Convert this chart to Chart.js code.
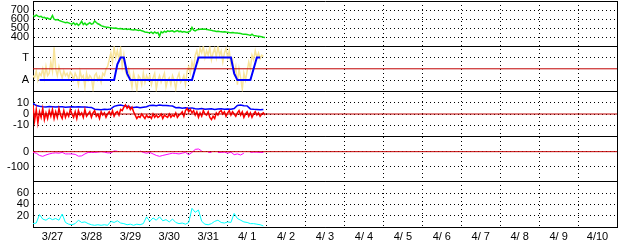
<!DOCTYPE html>
<html>
<head>
<meta charset="utf-8">
<script src="https://cdn.jsdelivr.net/npm/chart.js@4/dist/chart.umd.min.js"></script>
<style>
  html, body { margin: 0; padding: 0; background: #fff; }
  canvas { display: block; }
</style>
</head>
<body>
<canvas id="chart" width="628" height="244"></canvas>
<script>
/* ── Datos ───────────────────────────────────────────── */
// eje x en horas desde 3/27 00:00, 15 días
const dayLabels = ['3/27','3/28','3/29','3/30','3/31','4/ 1','4/ 2','4/ 3','4/ 4','4/ 5','4/ 6','4/ 7','4/ 8','4/ 9','4/10'];

// panel 1 (cada hora)
const greenVals = [
  640,628,645,632,625,630,615,620,608,612,600,605,
  640,598,590,594,585,578,572,566,560,565,558,550,
  545,560,538,552,530,548,575,540,555,535,548,560,
  545,550,580,562,548,540,528,520,515,512,510,506,
  505,500,498,502,495,492,496,490,488,492,486,489,
  485,482,480,484,478,475,478,470,465,458,455,452,
  450,456,440,458,445,452,411,460,448,465,455,470,
  462,468,470,458,465,472,460,466,455,462,458,452,
  460,468,508,478,470,481,485,488,490,487,489,486,
  482,478,475,470,468,463,465,462,460,458,460,456,
  455,452,450,452,448,445,446,442,440,436,433,432,
  430,425,420,432,418,415,412,410,408,405,400,397
];

// panel 2: A = 0, T = 1 (amarillo cada hora, azul cada 2 h)
const yellowVals = [
  0.2,0.1,0.4,0.0,0.3,0.2,0.5,0.1,0.6,0.2,0.3,0.8,
  0.4,1.45,0.5,0.2,0.6,0.3,0.1,0.4,0.2,0.3,0.1,0.35,
  0.25,0.0,0.3,0.15,-0.2,0.4,0.1,0.2,-0.3,0.3,0.0,0.2,
  0.1,-0.4,0.2,0.3,0.0,0.15,-0.1,0.3,0.2,0.5,0.6,0.9,
  1.2,0.8,1.45,1.0,1.3,0.9,1.4,0.6,1.1,0.4,0.2,0.5,
  0.1,-0.3,0.3,0.0,-0.45,0.2,0.1,-0.2,0.3,-0.1,0.2,0.0,
  0.2,-0.2,0.1,0.3,-0.4,0.0,0.2,-0.1,0.1,0.3,-0.3,0.0,
  0.1,-0.2,0.2,0.0,-0.4,0.1,0.3,-0.1,0.0,0.2,-0.2,0.4,
  0.6,0.3,0.8,0.5,1.1,1.3,0.9,1.4,1.2,1.5,1.0,1.3,
  1.1,1.45,0.9,1.2,1.4,1.0,1.5,1.1,1.3,0.8,1.2,1.4,
  1.0,1.3,0.7,0.9,0.3,0.6,-0.2,0.5,0.1,-0.4,0.3,0.0,
  0.4,0.8,0.5,1.1,0.9,1.3,1.0,1.2,0.95,1.1,1.05,null
];
const modeVals = [
  null,null,0,0,0,0,0,0,0,0,0,0,
  0,0,0,0,0,0,0,0,0,0,0,0,
  0,0,0.7,1,1,0.3,0,0,0,0,0,0,
  0,0,0,0,0,0,0,0,0,0,0,0,
  0,0,0.5,1,1,1,1,1,1,1,1,1,
  1,1,0.3,0,0,0,0,0,0.5,1,1,null
];
const modeMid = 0.5;

// panel 3 (rojo cada hora, azul cada 2 h)
const blue3Vals = [
  9.5,7.5,6.8,6.5,6.3,6.6,6.4,6.2,6.5,6.4,6.0,6.3,
  6.5,6.2,6.4,6.1,6.3,6.0,5.8,4.2,4.0,3.8,4.1,4.0,
  4.5,6.8,7.5,8.0,7.2,6.9,6.0,5.8,6.2,5.5,6.0,6.4,
  7.6,7.8,7.4,8.0,7.5,7.6,7.2,7.0,5.5,5.8,5.2,5.5,
  5.0,5.4,4.6,4.4,4.8,4.2,4.5,4.6,4.0,4.4,4.7,4.2,
  4.5,4.3,4.8,7.6,8.0,7.4,7.2,4.5,4.2,4.0,3.8,4.0
];
const red3Vals = [
  8,-6,4,-8,2,-3,5,-5,1,-4,3,-2,
  4,-4,2,-3,5,-1,-4,3,-3,1,-2,4,
  0,-3,2,-4,3,-1,1,-3,4,-2,0,2,
  -3,1,3,-2,0,-4,2,-1,1,-3,0,2,
  -1,3,-2,1,2,-1,4,3,6,8,5,7,
  4,6,2,-1,-4,-2,-3,0,-2,-4,-1,-3,
  -2,-4,0,-3,-1,-3,-2,0,-4,-1,-2,-3,
  0,-3,-1,-2,1,-3,-1,0,2,-2,3,5,
  2,4,1,3,-1,2,-3,1,-2,3,0,-1,
  2,-3,-5,-2,-4,1,-1,2,3,0,2,-2,
  1,3,-1,2,0,-2,1,3,-1,2,-3,0,
  2,-2,1,-3,0,2,-1,1,-2,0,1,-1
];

// panel 4 (cada 2 h)
const magentaVals = [
  -5,-10,-25,-31,-22,-15,-10,-8,-10,-5,-15,-15,
  -15,-18,-30,-28,-15,-5,-5,-5,-3,0,-3,-8,
  -8,5,3,null,-2,null,null,0,null,5,-5,-10,
  -5,-15,-25,-31,-25,-20,-15,-10,-12,-15,-10,-5,
  -20,-5,15,18,5,null,-5,-5,null,-5,-5,-3,
  -10,-3,-20,-15,-22,-10,null,-5,-3,-3,-5,-5
];

// panel 5 (cada 2 h)
const cyanVals = [
  6,7,22,14,12,16,13,15,12,23,8,5,
  4,6,12,8,9,6,4,3,4,3,4,3,
  10,8,11,7,6,4,5,3,5,4,6,18,
  10,16,12,18,11,13,9,14,8,6,7,5,
  8,33,26,30,10,5,4,6,10,12,8,7,
  9,8,24,15,12,9,8,6,6,5,4,2
];

// escalas
const y1Ticks = [300,400,500,600,700,800];
const y2Ticks = [-0.5,0,1,1.5];
const y2Names = { 0: 'A', 1: 'T' };
const y3Ticks = [-20,-10,0,10,20];
const y4Ticks = [-200,-100,0,100];
const y5Ticks = [0,20,40,60,80];
const xSpanHours = 360;

/* ── Helpers ─────────────────────────────────────────── */
const pts = (vals, step) => vals.map((v, i) => ({ x: i * step, y: v }));
const flat = v => [{ x: 0, y: v }, { x: xSpanHours, y: v }];
const FONT = { family: '"Liberation Sans", Arial, sans-serif', size: 11 };

function yAxis(tickVals, label) {
  const lo = tickVals[0], hi = tickVals[tickVals.length - 1];
  const edge = v => v === lo || v === hi;
  return {
    type: 'linear', position: 'left', stack: 'panels', stackWeight: 1,
    min: lo, max: hi,
    afterBuildTicks: s => { s.ticks = tickVals.map(v => ({ value: v })); },
    // sin relleno extra por etiquetas de los extremos
    afterFit: s => { s.width = 33; s.paddingTop = 0; s.paddingBottom = 0; },
    grid: { color: '#000', lineWidth: 1, drawTicks: false },
    border: { display: true, color: '#000', width: 1,
      dash: c => (c.tick && edge(c.tick.value)) ? [] : [1, 3] },
    ticks: { autoSkip: false, padding: 4, color: '#000', font: FONT,
      callback: v => edge(v) ? '' : label(v) }
  };
}

const ds = (yAxisID, data, color, width) => ({
  yAxisID, data, borderColor: color, borderWidth: width || 1,
  pointRadius: 0, fill: false, tension: 0, spanGaps: false
});

/* ── Chart ───────────────────────────────────────────── */
// los ejes apilados se colocan de abajo hacia arriba: y5 primero
new Chart(document.getElementById('chart'), {
  type: 'line',
  data: {
    datasets: [
      ds('y1', pts(greenVals, 1), '#10e010', 1.5),
      ds('y2', pts(modeVals, 2), '#0000ff', 2),
      ds('y2', flat(modeMid), '#c00000', 1),
      ds('y2', pts(yellowVals, 1), '#f8e49a', 1.5),
      ds('y3', flat(0), '#c00000', 1),
      ds('y3', pts(red3Vals, 1), '#ff0000', 1.5),
      ds('y3', pts(blue3Vals, 2), '#0000ff', 1.5),
      ds('y4', flat(0), '#c00000', 1),
      ds('y4', pts(magentaVals, 2), '#ff00ff', 1),
      ds('y5', pts(cyanVals, 2), '#00ffff', 1)
    ]
  },
  options: {
    responsive: false,
    animation: false,
    layout: { padding: { left: 0, right: 11, top: 1, bottom: 0 } },
    plugins: { legend: { display: false }, tooltip: { enabled: false } },
    scales: {
      x: {
        type: 'linear', min: 0, max: xSpanHours,
        afterBuildTicks: s => {
          const t = [];
          for (let h = 0; h <= xSpanHours; h += 12) t.push({ value: h });
          s.ticks = t;
        },
        afterFit: s => { s.height = 17; s.paddingLeft = 0; s.paddingRight = 0; },
        grid: {
          drawTicks: false, lineWidth: 1,
          color: c => (c.tick && c.tick.value % 24 === 12) ? 'rgba(0,0,0,0)' : '#000'
        },
        border: { display: true, color: '#000', width: 1,
          dash: c => (c.tick && (c.tick.value === 0 || c.tick.value === xSpanHours)) ? [] : [1, 3] },
        ticks: {
          autoSkip: false, maxRotation: 0, padding: 3, color: '#000', font: FONT,
          callback: v => v % 24 === 12 ? dayLabels[(v - 12) / 24] : ''
        }
      },
      y5: yAxis(y5Ticks, v => String(v)),
      y4: yAxis(y4Ticks, v => String(v)),
      y3: yAxis(y3Ticks, v => String(v)),
      y2: yAxis(y2Ticks, v => y2Names[v] || ''),
      y1: yAxis(y1Ticks, v => String(v))
    }
  }
});
</script>
</body>
</html>
